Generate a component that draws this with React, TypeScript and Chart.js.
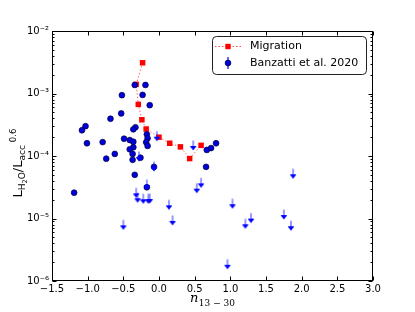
import { useEffect, useRef } from 'react';
import { Chart, registerables } from 'chart.js';
Chart.register(...registerables);

// Migration model track
const migrationX = [-0.23, -0.32, -0.29, -0.24, -0.18, 0.0, 0.15, 0.30, 0.43, 0.59];
const migrationY = [3.1e-3, 1.4e-3, 6.7e-4, 3.8e-4, 2.7e-4, 2.0e-4, 1.6e-4, 1.4e-4, 9.1e-5, 1.48e-4];

// Banzatti et al. 2020 detections
const banzattiX = [-0.34, -0.19, -0.52, -0.23, -0.13, -0.68, -0.53, -1.03, -1.08, -0.33, -0.36, -0.17, -0.16, -0.49, -0.41, -0.36, -1.01, -0.79, -0.18, -0.16, -0.36, -0.41, -0.62, -0.74, -0.37, -0.37, -0.26, 0.67, 0.73, 0.80, 0.66, -0.07, -0.34, -0.17, -1.19];
const banzattiY = [1.37e-3, 1.37e-3, 9.4e-4, 9.5e-4, 6.5e-4, 3.95e-4, 4.8e-4, 3.0e-4, 2.58e-4, 2.88e-4, 2.67e-4, 2.22e-4, 1.92e-4, 1.89e-4, 1.80e-4, 1.69e-4, 1.60e-4, 1.67e-4, 1.66e-4, 1.45e-4, 1.38e-4, 1.28e-4, 1.08e-4, 9.06e-5, 1.08e-4, 8.7e-5, 9.4e-5, 1.25e-4, 1.34e-4, 1.60e-4, 6.7e-5, 6.7e-5, 5.0e-5, 3.16e-5, 2.59e-5];

// Banzatti et al. 2020 upper limits
const limitX = [-0.03, 0.48, -0.28, -0.07, -0.17, -0.32, -0.30, -0.22, -0.15, -0.13, 0.14, 0.19, -0.50, 0.59, 0.53, 1.03, 1.21, 1.29, 1.75, 1.85, 1.88, 0.96];
const limitY = [1.76e-4, 1.25e-4, 8.3e-5, 5.75e-5, 2.96e-5, 2.18e-5, 1.82e-5, 1.75e-5, 1.75e-5, 1.77e-5, 1.40e-5, 7.9e-6, 6.7e-6, 3.15e-5, 2.59e-5, 1.46e-5, 6.97e-6, 8.6e-6, 9.8e-6, 6.5e-6, 4.4e-5, 1.57e-6];

const xTicks = [-1.5, -1.0, -0.5, 0.0, 0.5, 1.0, 1.5, 2.0, 2.5, 3.0];
const yTickExponents = [-6, -5, -4, -3, -2];

const SUP: Record<string, string> = { '-': '⁻', '0': '⁰', '1': '¹', '2': '²', '3': '³', '4': '⁴', '5': '⁵', '6': '⁶', '7': '⁷', '8': '⁸', '9': '⁹' };
const supStr = (s: string) => s.split('').map((c) => SUP[c] || c).join('');
const fmtX = (v: number) => (v < 0 ? '\u2212' : '') + Math.abs(v).toFixed(1);

const SANS = '"DejaVu Sans", sans-serif';
const SERIF = '"DejaVu Serif", serif';

function makeArrow(): HTMLCanvasElement {
  const c = document.createElement('canvas');
  c.width = 10;
  c.height = 24;
  const g = c.getContext('2d')!;
  g.strokeStyle = 'rgba(0,0,255,0.5)';
  g.lineWidth = 1.6;
  g.beginPath();
  g.moveTo(5, 2.5);
  g.lineTo(5, 10);
  g.stroke();
  g.fillStyle = '#0000ff';
  g.beginPath();
  g.moveTo(5, 12.5);
  g.lineTo(2, 8.5);
  g.lineTo(8, 8.5);
  g.closePath();
  g.fill();
  g.fillRect(2.2, 8, 5.6, 1.2);
  return c;
}

type Piece = { t: string; size: number; dy: number; font: string; gap?: number };

function drawPieces(ctx: CanvasRenderingContext2D, pieces: Piece[], startX: number, baseY: number) {
  let x = startX;
  for (const p of pieces) {
    x += p.gap || 0;
    ctx.font = p.font.replace('SIZE', String(p.size));
    ctx.fillText(p.t, x, baseY + p.dy);
    x += ctx.measureText(p.t).width;
  }
}
function measurePieces(ctx: CanvasRenderingContext2D, pieces: Piece[]) {
  let w = 0;
  for (const p of pieces) {
    w += p.gap || 0;
    ctx.font = p.font.replace('SIZE', String(p.size));
    w += ctx.measureText(p.t).width;
  }
  return w;
}

const decorPlugin = {
  id: 'decor',
  afterDraw(chart: any) {
    const ctx: CanvasRenderingContext2D = chart.ctx;
    const { left, right, top, bottom } = chart.chartArea;
    const xs = chart.scales.x;
    const ys = chart.scales.y;
    ctx.save();
    ctx.strokeStyle = '#000';
    ctx.lineWidth = 1;
    const L = Math.round(left) + 0.5, R = Math.round(right) - 0.5, T = Math.round(top) + 0.5, B = Math.round(bottom) - 0.5;
    ctx.strokeRect(L, T, R - L, B - T);
    ctx.beginPath();
    for (const v of xTicks) {
      const px = Math.round(xs.getPixelForValue(v)) + 0.5;
      ctx.moveTo(px, B);
      ctx.lineTo(px, B - 4);
      ctx.moveTo(px, T);
      ctx.lineTo(px, T + 4);
    }
    for (const e of yTickExponents) {
      const py = Math.round(ys.getPixelForValue(Math.pow(10, e))) + 0.5;
      ctx.moveTo(L, py);
      ctx.lineTo(L + 4, py);
      ctx.moveTo(R, py);
      ctx.lineTo(R - 4, py);
      if (e < -2) {
        for (let m = 2; m <= 9; m++) {
          const pm = Math.round(ys.getPixelForValue(m * Math.pow(10, e))) + 0.5;
          ctx.moveTo(L, pm);
          ctx.lineTo(L + 2, pm);
          ctx.moveTo(R, pm);
          ctx.lineTo(R - 2, pm);
        }
      }
    }
    ctx.stroke();

    // axis titles
    ctx.fillStyle = '#000';
    ctx.textAlign = 'left';
    ctx.textBaseline = 'alphabetic';
    const xPieces: Piece[] = [
      { t: 'n', size: 13, dy: 0, font: 'italic SIZEpx ' + SERIF },
      { t: '13 \u2212 30', size: 9, dy: 3.5, font: 'SIZEpx ' + SERIF, gap: 0.5 },
    ];
    const xw = measurePieces(ctx, xPieces);
    drawPieces(ctx, xPieces, (left + right) / 2 - xw / 2, 302);

    const yPieces: Piece[] = [
      { t: 'L', size: 13, dy: 0, font: 'SIZEpx ' + SANS },
      { t: 'H', size: 9, dy: 3, font: 'SIZEpx ' + SANS },
      { t: '2', size: 6.5, dy: 5, font: 'SIZEpx ' + SANS },
      { t: 'O', size: 9, dy: 3, font: 'SIZEpx ' + SANS },
      { t: '/L', size: 13, dy: 0, font: 'SIZEpx ' + SANS },
      { t: 'acc', size: 9, dy: 3, font: 'SIZEpx ' + SANS },
      { t: '0.6', size: 8.5, dy: -6.5, font: 'SIZEpx ' + SANS, gap: 3 },
    ];
    const yw = measurePieces(ctx, yPieces);
    ctx.save();
    ctx.translate(22, (top + bottom) / 2 + 7);
    ctx.rotate(-Math.PI / 2);
    drawPieces(ctx, yPieces, -yw / 2, 0);
    ctx.restore();

    // legend
    const lx = 212.5, ly = 36.5, lw = 154, lh = 38;
    ctx.beginPath();
    if ((ctx as any).roundRect) (ctx as any).roundRect(lx, ly, lw, lh, 4);
    else ctx.rect(lx, ly, lw, lh);
    ctx.fillStyle = '#fff';
    ctx.fill();
    ctx.strokeStyle = '#222';
    ctx.lineWidth = 1;
    ctx.stroke();

    const r1 = 46.5, r2 = 63;
    ctx.strokeStyle = 'rgba(255,0,0,0.7)';
    ctx.setLineDash([1.5, 2]);
    ctx.beginPath();
    ctx.moveTo(215, r1);
    ctx.lineTo(241, r1);
    ctx.stroke();
    ctx.setLineDash([]);
    ctx.fillStyle = '#ff0000';
    ctx.fillRect(228 - 2.7, r1 - 2.7, 5.4, 5.4);

    ctx.strokeStyle = '#0000ff';
    ctx.lineWidth = 1.2;
    ctx.beginPath();
    ctx.moveTo(228, r2 - 6);
    ctx.lineTo(228, r2 + 6);
    ctx.stroke();
    ctx.beginPath();
    ctx.arc(228, r2, 2.9, 0, Math.PI * 2);
    ctx.fillStyle = '#0000dd';
    ctx.fill();
    ctx.strokeStyle = '#00003a';
    ctx.lineWidth = 0.7;
    ctx.stroke();

    ctx.fillStyle = '#000';
    ctx.font = '11px ' + SANS;
    ctx.textBaseline = 'middle';
    ctx.fillText('Migration', 250, r1);
    ctx.fillText('Banzatti et al. 2020', 250, r2);
    ctx.restore();
  },
};

export default function App() {
  const ref = useRef<HTMLCanvasElement | null>(null);
  useEffect(() => {
    if (!ref.current) return;
    const arrow = makeArrow();
    const chart = new Chart(ref.current, {
      type: 'scatter',
      data: {
        datasets: [
          {
            label: 'Banzatti et al. 2020 (upper limits)',
            data: limitX.map((x, i) => ({ x, y: limitY[i] })),
            pointStyle: arrow as any,
            pointRadius: 3,
            showLine: false,
          },
          {
            label: 'Banzatti et al. 2020',
            data: banzattiX.map((x, i) => ({ x, y: banzattiY[i] })),
            pointStyle: 'circle',
            pointRadius: 2.9,
            backgroundColor: '#0000dd',
            borderColor: '#00003a',
            borderWidth: 0.7,
            showLine: false,
          },
          {
            label: 'Migration',
            data: migrationX.map((x, i) => ({ x, y: migrationY[i] })),
            showLine: true,
            borderColor: 'rgba(255,0,0,0.6)',
            borderWidth: 1,
            borderDash: [1.5, 2],
            pointStyle: 'rect',
            pointRadius: 3.9,
            pointBorderWidth: 0,
            pointBackgroundColor: '#ff0000',
            pointBorderColor: '#ff0000',
            backgroundColor: '#ff0000',
          },
        ],
      },
      options: {
        animation: false,
        responsive: false,
        devicePixelRatio: 1,
        layout: { padding: { left: 0, right: 42, top: 31, bottom: 0 } },
        plugins: { legend: { display: false }, tooltip: { enabled: false } },
        scales: {
          x: {
            type: 'linear',
            min: -1.5,
            max: 3.0,
            grid: { display: false, drawTicks: false },
            border: { display: false },
            afterBuildTicks: (s: any) => {
              s.ticks = xTicks.map((v) => ({ value: v }));
            },
            afterFit: (s: any) => {
              s.height = 31;
            },
            ticks: {
              padding: 2,
              color: '#000',
              font: { family: SANS, size: 10 },
              maxRotation: 0,
              autoSkip: false,
              callback: (v: any) => fmtX(Number(v)),
            },
          },
          y: {
            type: 'logarithmic',
            min: 1e-6,
            max: 1e-2,
            grid: { display: false, drawTicks: false },
            border: { display: false },
            afterBuildTicks: (s: any) => {
              s.ticks = yTickExponents.map((e) => ({ value: Math.pow(10, e) }));
            },
            afterFit: (s: any) => {
              s.width = 52;
            },
            ticks: {
              padding: 3,
              color: '#000',
              font: { family: SANS, size: 10 },
              autoSkip: false,
              callback: (v: any) => '10' + supStr(String(Math.round(Math.log10(Number(v))))),
            },
          },
        },
      },
      plugins: [decorPlugin],
    });
    return () => chart.destroy();
  }, []);
  return (
    <div style={{ position: 'absolute', left: 0, top: 0, width: 415, height: 312, background: '#fff' }}>
      <canvas ref={ref} width={415} height={312} style={{ display: 'block' }} />
    </div>
  );
}
